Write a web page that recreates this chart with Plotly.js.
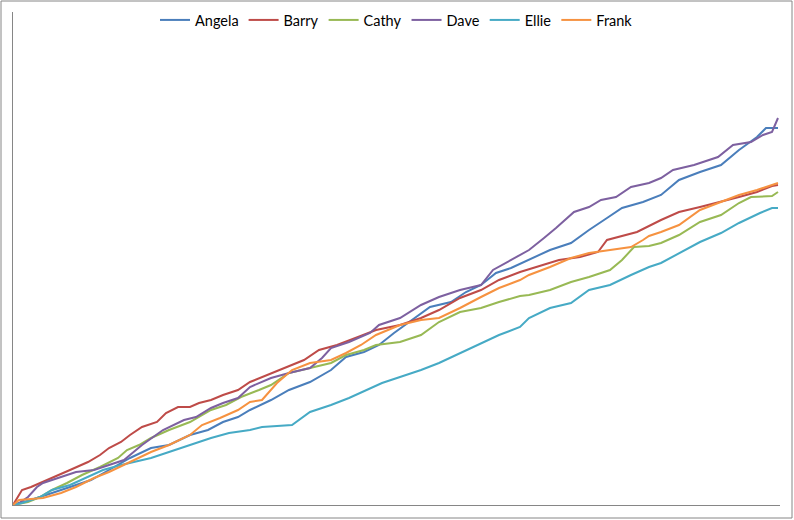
<!DOCTYPE html>
<html>
<head>
<meta charset="utf-8">
<script src="https://cdn.plot.ly/plotly-3.0.1.min.js"></script>
<style>html,body{margin:0;padding:0;background:#fff;}#chart{width:794px;height:520px;}</style>
</head>
<body>
<div id="chart"></div>
<script>
// Values (x: day index, y: cumulative score)
const angelaX = [0,6,12,19,26,32,39,46,52,59,65,70,75,79,86,92,99,106,111,117,122,127,133,139,146,151,156,161,166,172,179,186,192,198,203,210,216,222,229,236,242,248,251,255];
const angelaY = [0,1,2.2,3.6,5,7,9.4,11.4,12,14,15,16.6,17.6,19,21,23,24.6,27,29.6,30.6,32,34.4,37,39.6,40.6,42.6,44,46.4,47.4,49,51,52.4,55,57.4,59.4,60.6,62,65,66.6,68,71,73.6,75.4,75.4];

const barryX = [0,3,6,10,13,19,25,29,32,36,39,43,48,51,55,59,62,66,70,75,79,83,90,97,102,108,115,121,129,136,142,149,156,162,169,177,182,189,195,198,203,208,216,222,229,236,242,248,253,255];
const barryY = [0,3,3.6,4.6,5.4,7,8.6,10,11.4,12.6,14,15.6,16.6,18.4,19.6,19.6,20.4,21,22,23,24.6,25.6,27.4,29,31,32,33.6,35,36,37.4,39,41.4,43,45,46.6,48,49,49.6,50.6,53,53.8,54.6,57,58.6,59.6,60.6,61.6,62.6,63.8,64];

const cathyX = [0,5,9,13,18,23,29,35,38,42,46,52,59,66,71,76,82,86,92,99,106,111,117,121,129,136,142,149,156,162,169,172,179,186,192,199,203,207,212,216,222,229,236,242,246,253,255];
const cathyY = [0,0.6,1.6,3,4.4,6,7.6,9.4,11,12,13.4,15,16.6,19,20,21.6,23,24,26.4,27.4,28.4,30,31,32,32.6,34,36.6,38.6,39.4,40.6,41.8,42,43,44.6,45.6,47,49,51.6,51.8,52.4,54,56.6,58,60.4,61.6,61.8,62.6];

const daveX = [0,2,5,8,10,16,21,27,32,37,39,43,50,57,61,66,70,75,79,86,92,99,103,106,112,119,122,129,136,142,149,156,160,165,169,172,177,181,187,192,196,201,206,212,216,220,227,235,240,246,250,253,255];
const daveY = [0,0.4,1.6,3.6,4.4,5.6,6.6,7,8,9,10,12,15,17,17.6,19.4,20.4,21.4,23.6,25.4,26.4,27.4,29.4,31.4,32.6,34.4,36,37.4,40,41.6,43,44,47,48.6,50,51,53.4,55.4,58.6,59.6,61,61.6,63.6,64.4,65.4,67,68,69.6,72,72.6,74,74.6,77.4];

const ellieX = [0,3,9,13,19,25,30,36,39,46,52,59,66,72,79,83,93,99,106,112,118,123,129,136,142,149,156,162,169,172,179,186,192,199,206,212,216,222,229,236,242,249,253,255];
const ellieY = [0,0.4,1.6,3,4,5.6,7,8,8.4,9.4,10.6,12,13.4,14.4,15,15.6,16,18.6,20,21.4,23,24.4,25.6,27,28.4,30.4,32.4,34,35.6,37.4,39.4,40.4,43,44,46,47.6,48.4,50.4,52.6,54.4,56.4,58.4,59.4,59.4];

const frankX = [0,2,10,16,21,27,32,39,46,52,59,63,69,75,79,83,88,93,99,106,111,116,121,129,136,142,149,156,162,169,172,179,186,192,199,206,210,212,216,222,229,236,242,248,253,255];
const frankY = [0,1,1.4,2.4,3.6,5.4,6.6,8.6,10.6,12,14,16,17.4,19,20.6,21,24.4,27,28.4,29,30.4,32,34,36,37,37.4,39.4,41.6,43.4,45,46,47.6,49.4,50.4,51,51.6,53,53.8,54.6,56,59,60.6,62,63,64,64.4];

const names = ["Angela","Barry","Cathy","Dave","Ellie","Frank"];
const xs = [angelaX, barryX, cathyX, daveX, ellieX, frankX];
const ys = [angelaY, barryY, cathyY, daveY, ellieY, frankY];
const colors = ["#4A7EBB","#BE4B48","#98B954","#7D60A0","#46AAC5","#F69240"];

const traces = names.map((n, i) => ({
  type: "scatter",
  mode: "lines",
  name: n,
  x: xs[i],
  y: ys[i],
  line: {color: colors[i], width: 2, shape: "linear"},
  hoverinfo: "skip"
}));

const W = 794, H = 520;
const L = 13, R = 14, T = 12, B = 15;
const pw = W - L - R, ph = H - T - B;
const px = v => (v - L) / pw;
const py = v => (H - B - v) / ph;

const layout = {
  width: W, height: H,
  margin: {l: L, r: R, t: T, b: B, pad: 0, autoexpand: false},
  paper_bgcolor: "#ffffff",
  plot_bgcolor: "#ffffff",
  showlegend: true,
  legend: {
    orientation: "h",
    x: 0.5, xanchor: "center",
    y: py(20), yanchor: "middle",
    font: {family: "Lato, 'Noto Sans', sans-serif", size: 14.5, color: "#000"},
    bgcolor: "rgba(0,0,0,0)",
    itemwidth: 30,
    traceorder: "normal"
  },
  xaxis: {
    range: [0, pw / 3],
    showgrid: false, zeroline: false,
    showticklabels: false, ticks: "",
    showline: true, linecolor: "#868686", linewidth: 1,
    fixedrange: true
  },
  yaxis: {
    range: [0, ph / 5],
    showgrid: false, zeroline: false,
    showticklabels: false, ticks: "",
    showline: true, linecolor: "#868686", linewidth: 1,
    fixedrange: true
  },
  shapes: [{
    type: "rect", xref: "paper", yref: "paper",
    x0: px(1), x1: px(792), y0: py(518), y1: py(1),
    line: {color: "#868686", width: 1}, fillcolor: "rgba(0,0,0,0)"
  }]
};

Plotly.newPlot("chart", traces, layout, {staticPlot: true, displayModeBar: false});
</script>
</body>
</html>
